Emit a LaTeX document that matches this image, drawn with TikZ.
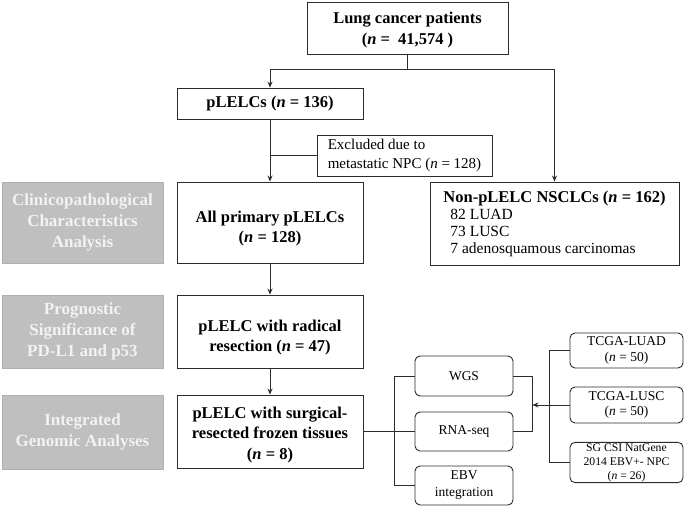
\documentclass[tikz,border=0pt]{standalone}
\usepackage{fontspec}
\setmainfont{Liberation Serif}
\usetikzlibrary{arrows.meta,calc}
\definecolor{greyfill}{HTML}{BFBFBF}
\definecolor{greytext}{HTML}{F2F2F2}
\definecolor{linec}{HTML}{2B2B2B}
\tikzset{
  wh/.style 2 args={minimum width=#1pt, minimum height=#2pt},
  mainbox/.style={draw=linec, line width=0.9pt, fill=white, inner sep=1pt, align=center,
    font=\bfseries\fontsize{16.5}{20.5}\selectfont},
  greybox/.style={draw=greyfill!92!black, fill=greyfill, text=greytext, line width=0.6pt,
    align=center, inner sep=1pt, font=\bfseries\fontsize{17}{21}\selectfont},
  smallbox/.style={draw=linec, line width=0.9pt, fill=white, rounded corners=5pt, align=center,
    inner sep=1pt, font=\fontsize{13.5}{15.5}\selectfont},
  conn/.style={draw=linec, line width=0.9pt},
  arr/.style={conn, -{Stealth[length=6pt,width=5pt]}},
}
\begin{document}
\begin{tikzpicture}[x=1pt, y=-1pt]
\fill[white] (0,0) rectangle (685,506);
\useasboundingbox (0,0) rectangle (685,506);

% main column
\node[mainbox, wh={201}{52}] (top) at (407.5,28) {\rule{0pt}{16pt}Lung cancer patients\\(\textit{n} =~~41,574~)};
\node[mainbox, wh={186}{31}] (plelcs) at (270,103.5) {pLELCs (\textit{n} = 136)};
\node[mainbox, wh={175}{41}, font=\fontsize{15}{19}\selectfont, align=left] (excl) at (404.5,155.5)
  {Excluded due to\\metastatic NPC (\textit{n} = 128)};
\node[mainbox, wh={186}{81}] (allprim) at (270,222.5) {\rule{0pt}{24pt}All primary pLELCs\\(\textit{n} = 128)};
\node[mainbox, wh={249}{83}, align=left, font=\fontsize{15.5}{17}\selectfont] (nonp) at (554.5,223.5)
  {{\bfseries\fontsize{16.5}{17}\selectfont Non-pLELC NSCLCs (\textit{n} = 162)}\\
   \hspace*{7pt}82 LUAD\\ \hspace*{7pt}73 LUSC\\ \hspace*{7pt}7 adenosquamous carcinomas};
\node[mainbox, wh={186}{73}] (radical) at (270,331.5) {\rule{0pt}{24pt}pLELC with radical\\resection (\textit{n} = 47)};
\node[mainbox, wh={186}{73}] (surg) at (270,431.5) {\rule{0pt}{18pt}pLELC with surgical-\\resected frozen tissues\\(\textit{n} = 8)};

% grey side labels
\node[greybox, wh={161}{81}] (g1) at (82.5,222.5) {Clinicopathological\\Characteristics\\Analysis};
\node[greybox, wh={161}{73}] (g2) at (82.5,331.5) {Prognostic\\Significance of\\PD-L1 and p53};
\node[greybox, wh={161}{74}] (g3) at (82.5,432) {Integrated\\Genomic Analyses};

% analyses
\node[smallbox, wh={98}{40}] (wgs) at (464,376) {WGS};
\node[smallbox, wh={98}{39}] (rna) at (464,431.5) {RNA-seq};
\node[smallbox, wh={98}{39}, font=\fontsize{13.5}{17}\selectfont] (ebv) at (464,485.5) {EBV\\integration};

% external datasets
\node[smallbox, wh={113}{35}] (luad) at (626.5,350.5) {TCGA-LUAD\\(\textit{n} = 50)};
\node[smallbox, wh={113}{36}] (lusc) at (626.5,405) {TCGA-LUSC\\(\textit{n} = 50)};
\node[smallbox, wh={113}{39}, font=\fontsize{11.7}{14}\selectfont] (sg) at (626.5,462.5)
  {SG CSI NatGene\\2014 EBV+- NPC\\(\textit{n} = 26)};

% connectors
\coordinate (split) at (407.5,69);
\draw[conn] (top.south) -- (split);
\draw[arr] (split) -| (plelcs.north);
\draw[arr] (split) -| (nonp.north);
\draw[arr] (plelcs.south) -- (allprim.north);
\draw[conn] (plelcs.south |- excl.west) -- (excl.west);
\draw[arr] (allprim.south) -- (radical.north);
\draw[arr] (radical.south) -- (surg.north);

\draw[conn] (surg.east |- rna.west) -- (rna.west);
\draw[conn] (wgs.west) -- ++(-20,0) |- (ebv.west);
\draw[conn] (wgs.east) -- ++(19,0) coordinate (rbtop) |- (rna.east);
\coordinate (rbmid) at ($(rbtop)!0.5!(rbtop |- rna.east)$);
\draw[conn] (luad.west) -- ++(-20,0) |- (sg.west);
\draw[arr] (lusc.west) -- (lusc.west -| rbmid);
\end{tikzpicture}
\end{document}
